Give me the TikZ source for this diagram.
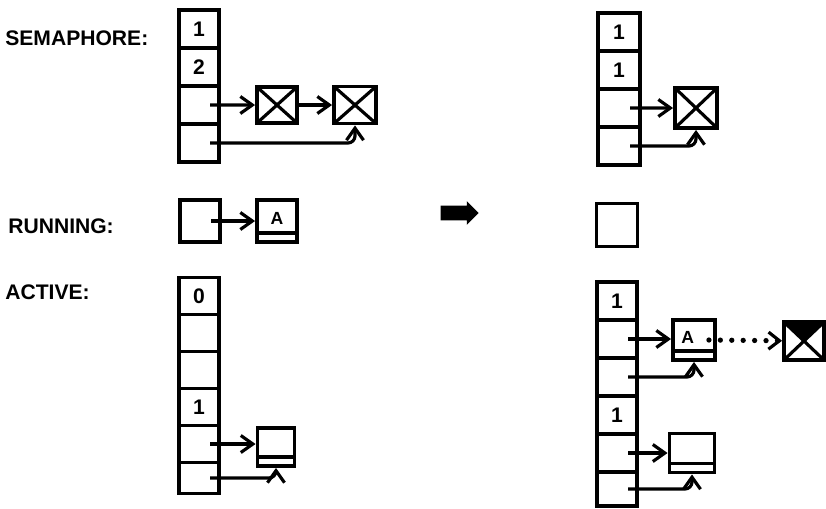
\documentclass[tikz,border=0pt]{standalone}
\usepackage{fontspec}
\setmainfont{Liberation Sans}
\usetikzlibrary{positioning,arrows.meta,shapes.arrows}

\begin{document}
\begin{tikzpicture}[
  x=0.2mm,y=-0.2mm,
  font=\bfseries,
  >={Straight Barb[length=2.4mm,width=3.4mm]},
  cell/.style={draw,line width=2.2pt,minimum width=8mm,minimum height=7.6mm,inner sep=0pt,outer sep=0pt,font=\bfseries\large},
  box/.style={draw,line width=2.2pt,minimum width=8mm,minimum height=7.6mm,inner sep=0pt},
  xbox/.style={box,path picture={
    \draw[line width=1.8pt] (path picture bounding box.south west) -- (path picture bounding box.north east)
      (path picture bounding box.north west) -- (path picture bounding box.south east);}},
  xdark/.style={box,path picture={
    \fill (path picture bounding box.north west) -- (path picture bounding box.north east)
      -- (path picture bounding box.center) -- cycle;
    \draw[line width=1.8pt] (path picture bounding box.south west) -- (path picture bounding box.north east)
      (path picture bounding box.north west) -- (path picture bounding box.south east);}},
  pcb/.style={box,path picture={
    \draw[line width=1.8pt] ([yshift=1.8mm]path picture bounding box.south west) -- ([yshift=1.8mm]path picture bounding box.south east);}},
  flow/.style={->,line width=1.8pt},
  hook/.style={flow,rounded corners=4pt},
  lbl/.style={anchor=west,inner sep=0pt,font=\bfseries\large},
]
\useasboundingbox (0,0) rectangle (826,508);

% ---------- LABELS ----------
\node[lbl] (semlbl) at (5,38) {SEMAPHORE:};
\node[lbl] (runlbl) at (8,226) {RUNNING:};
\node[lbl] (actlbl) at (5,292) {ACTIVE:};

% ---------- SEMAPHORE (before) ----------
\node[cell] (sl1) at (199,29) {1};
\node[cell,below=0pt of sl1] (sl2) {2};
\node[cell,below=0pt of sl2] (sl3) {};
\node[cell,below=0pt of sl3] (sl4) {};
\node[xbox,minimum height=7.2mm] (sx1) at (277,105) {};
\node[xbox,minimum width=8.4mm,minimum height=7.4mm] (sx2) at (355,105) {};
\draw[flow] ([xshift=2.2mm]sl3.center) -- (sx1);
\draw[flow] (sx1) -- (sx2);
\draw[hook] ([xshift=2.2mm]sl4.center) -| (sx2.south);

% ---------- RUNNING (before) ----------
\node[box,minimum height=8.4mm] (rl) at (200,221) {};
\node[pcb,minimum height=8.4mm] (ra) at (277,221) {\raisebox{1mm}{A}};
\draw[flow] ([xshift=2.2mm]rl.center) -- (ra);

% ---------- ACTIVE (before) ----------
\node[cell,minimum height=7.4mm] (al1) at (199,296) {0};
\node[cell,minimum height=7.4mm,below=0pt of al1] (al2) {};
\node[cell,minimum height=7.4mm,below=0pt of al2] (al3) {};
\node[cell,minimum height=7.4mm,below=0pt of al3] (al4) {1};
\node[cell,minimum height=7.4mm,below=0pt of al4] (al5) {};
\node[cell,minimum height=6.2mm,below=0pt of al5] (al6) {};
\node[pcb,minimum width=7.4mm] (alb) at (276,447) {};
\draw[flow] ([xshift=2.2mm]al5.center) -- (alb.west|-al5.center);
\draw[hook] ([xshift=2.2mm]al6.center) -| (alb.south);

% ---------- TRANSITION ----------
\node[single arrow,fill=black,inner sep=1.4mm,minimum height=7.6mm,single arrow head extend=0.9mm] (go) at (456,213) {};

% ---------- SEMAPHORE (after) ----------
\node[cell,minimum width=8.4mm] (sr1) at (619,32) {1};
\node[cell,minimum width=8.4mm,below=0pt of sr1] (sr2) {1};
\node[cell,minimum width=8.4mm,below=0pt of sr2] (sr3) {};
\node[cell,minimum width=8.4mm,below=0pt of sr3] (sr4) {};
\node[xbox,minimum width=8.4mm,minimum height=8mm] (srx) at (696,108) {};
\draw[flow] ([xshift=2.2mm]sr3.center) -- (srx);
\draw[hook] ([xshift=2.2mm]sr4.center) -| (srx.south);

% ---------- RUNNING (after) ----------
\node[box,minimum width=8.2mm,minimum height=8.6mm] (rr) at (617,225) {};

% ---------- ACTIVE (after) ----------
\node[cell] (ar1) at (617,301) {1};
\node[cell,below=0pt of ar1] (ar2) {};
\node[cell,below=0pt of ar2] (ar3) {};
\node[cell,below=0pt of ar3] (ar4) {1};
\node[cell,below=0pt of ar4] (ar5) {};
\node[cell,minimum height=6.8mm,below=0pt of ar5] (ar6) {};
\node[pcb,minimum width=8.4mm,minimum height=8mm] (ara) at (694,340) {\raisebox{1mm}{A\hspace{2.5mm}}};
\node[xdark,minimum height=7.6mm] (arx) at (804,341) {};
\node[pcb,minimum width=9mm,minimum height=7.8mm] (arb) at (692,453) {};
\draw[flow] ([xshift=2.2mm]ar2.center) -- (ara.west|-ar2.center);
\draw[hook] ([xshift=2.2mm]ar3.center) -| (ara.south);
\draw[flow] ([xshift=2.2mm]ar5.center) -- (arb.west|-ar5.center);
\draw[hook] ([xshift=2.2mm]ar6.center) -| (arb.south);
\draw[line width=3pt,dash pattern=on 0pt off 6.5pt,line cap=round,
  -{Straight Barb[length=2.2mm,width=3.4mm,line width=1.8pt]}] ([xshift=-1.6mm]ara.east) -- (arx);

\end{tikzpicture}
\end{document}
